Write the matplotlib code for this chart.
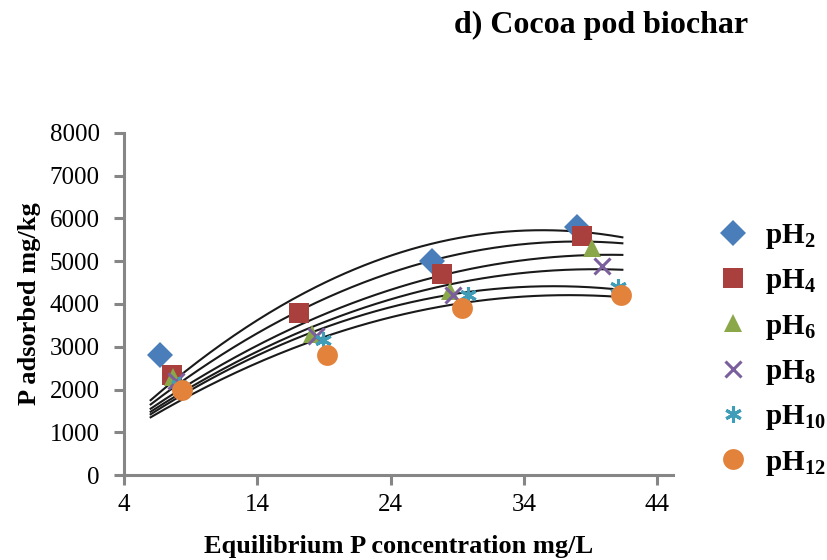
import numpy as np
import matplotlib
matplotlib.use("Agg")
from matplotlib import pyplot as plt

plt.rcParams['font.family'] = ['Liberation Serif', 'DejaVu Serif']
plt.rcParams['mathtext.default'] = 'regular'

# adsorption data, one list per pH
labels = ['pH$_2$', 'pH$_4$', 'pH$_6$', 'pH$_8$', 'pH$_{10}$', 'pH$_{12}$']
ce = [
    [6.7, 27.1, 38.0],
    [7.6, 17.1, 27.9, 38.4],
    [7.7, 18.1, 28.5, 39.1],
    [7.9, 18.4, 28.7, 39.9],
    [8.1, 18.9, 29.8, 41.1],
    [8.35, 19.2, 29.4, 41.3],
]
qe = [
    [2800, 5000, 5800],
    [2350, 3800, 4700, 5600],
    [2300, 3300, 4300, 5300],
    [2200, 3250, 4200, 4900],
    [2100, 3150, 4200, 4400],
    [2000, 2800, 3900, 4200],
]
# polynomial trendlines y = a + b*x + c*x^2
trend_a = [-39, 90, 186, 173, 114, 153]
trend_b = [325.8, 282.3, 245.6, 235.9, 237.4, 216.9]
trend_c = [-4.603, -3.709, -3.037, -2.998, -3.275, -2.901]
trend_start = 6.0
trend_end = 41.4

colors = ['#4a7ebb', '#a9403e', '#8aa74a', '#7a5f9c', '#3f9db8', '#e3823a']
markers = ['D', 's', '^', 'x', (6, 2, 0), 'o']
msizes = [13, 14, 13, 11, 12, 15]

fig = plt.figure(figsize=(8.28, 5.6), dpi=100)
ax = fig.add_axes([124/828, 1-475/560, (673-124)/828, (475-133)/560])

xs = np.linspace(trend_start, trend_end, 200)
for i in range(6):
    ys = trend_a[i] + trend_b[i]*xs + trend_c[i]*xs**2
    ax.plot(xs, ys, color='#1a1a1a', lw=1.5, zorder=2)

handles = []
for i in range(6):
    mew = 2.2 if markers[i] == 'x' or isinstance(markers[i], tuple) else 0
    h, = ax.plot(ce[i], qe[i], linestyle='none', marker=markers[i], ms=msizes[i],
                 color=colors[i], mec=colors[i], mew=mew, zorder=3)
    handles.append(h)

ax.set_xlim(4, 45.2)
ax.set_ylim(0, 8000)
ax.set_xticks([4, 14, 24, 34, 44])
ax.set_yticks(range(0, 8001, 1000))
for s in ['top', 'right']:
    ax.spines[s].set_visible(False)
for s in ['left', 'bottom']:
    ax.spines[s].set_color('#868686')
    ax.spines[s].set_linewidth(2.2)
ax.tick_params(colors='#868686', width=2.2, length=7.5, labelsize=18,
               labelcolor='black', pad=6)
ax.tick_params(axis='y', pad=10)

ax.set_xlabel('Equilibrium P concentration mg/L', fontsize=19, fontweight='bold',
              labelpad=14)
ax.set_ylabel('P adsorbed mg/kg', fontsize=19, fontweight='bold', labelpad=6)

fig.text(601/828, 1-25/560, 'd) Cocoa pod biochar', fontsize=23, fontweight='bold',
         ha='center', va='center')

fig.legend(handles, labels, loc='upper left', bbox_to_anchor=(718/828, 1-222/560),
           frameon=False, prop={'size': 21, 'weight': 'bold'}, handlelength=1.0,
           handletextpad=0.6, labelspacing=0.56, borderpad=0, borderaxespad=0)

fig.savefig('out.png', dpi=100)
